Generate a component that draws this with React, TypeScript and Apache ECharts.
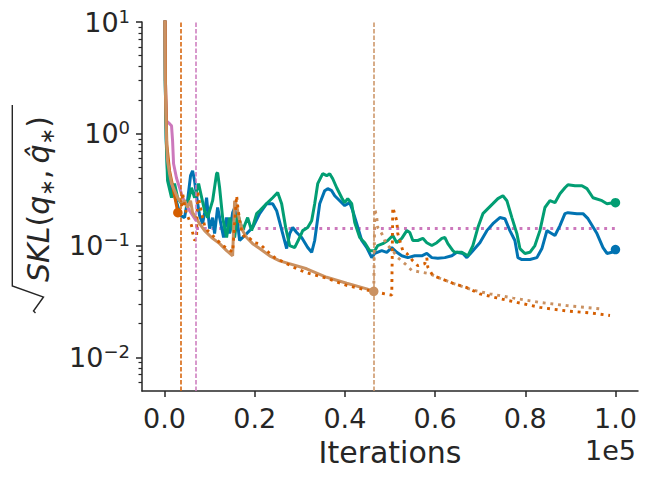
import React, { useEffect, useRef } from "react";
import * as echarts from "echarts";

// ---------------- data ----------------
const xTicks = [0, 20000, 40000, 60000, 80000, 100000];
const yMajorTicks = [0.01, 0.1, 1, 10];
const yMinorTicks = [
  0.006, 0.007, 0.008, 0.009,
  0.02, 0.03, 0.04, 0.05, 0.06, 0.07, 0.08, 0.09,
  0.2, 0.3, 0.4, 0.5, 0.6, 0.7, 0.8, 0.9,
  2, 3, 4, 5, 6, 7, 8, 9,
];

const blueSolid: [number, number][] = [
  [0, 50], [150, 3.0], [370, 0.9], [730, 0.403], [1110, 0.38], [1550, 0.31], [2220, 0.279],
  [2890, 0.228], [3550, 0.185], [4440, 0.178], [5100, 0.252], [5770, 0.422], [6220, 0.467],
  [6660, 0.38], [7100, 0.279], [7770, 0.185], [8440, 0.157], [8880, 0.197], [9320, 0.268],
  [9990, 0.142], [10660, 0.178], [11100, 0.128], [11770, 0.219], [12650, 0.145], [13100, 0.118],
  [13760, 0.178], [14430, 0.128], [15100, 0.197], [15760, 0.228], [16650, 0.111], [18200, 0.128],
  [19540, 0.145], [21090, 0.193], [22640, 0.237], [23980, 0.237], [24860, 0.205], [26200, 0.128],
  [27080, 0.094], [27750, 0.128], [28420, 0.145], [29300, 0.131], [30410, 0.118], [31750, 0.096],
  [32630, 0.087], [33300, 0.111], [34410, 0.237], [35520, 0.31], [36190, 0.323], [37070, 0.31],
  [37740, 0.279], [38850, 0.252], [39960, 0.228], [41070, 0.242], [41740, 0.205], [42620, 0.157],
  [43730, 0.111], [44840, 0.096], [45950, 0.078], [46620, 0.085], [48170, 0.09], [49280, 0.087],
  [50390, 0.096], [51500, 0.087], [52610, 0.081], [53950, 0.078], [55500, 0.081], [57050, 0.081],
  [58160, 0.085], [59270, 0.078], [60610, 0.077], [62160, 0.078], [63710, 0.081], [64820, 0.087],
  [66160, 0.085], [67040, 0.078], [68380, 0.09], [69930, 0.106], [71480, 0.136], [72820, 0.157],
  [74370, 0.178], [75480, 0.174], [76590, 0.136], [77700, 0.111], [78370, 0.078], [79250, 0.075],
  [81030, 0.075], [82580, 0.078], [83690, 0.094], [84800, 0.136], [85470, 0.131], [86580, 0.123],
  [87690, 0.151], [88800, 0.193], [89470, 0.197], [91460, 0.193], [92800, 0.193], [93910, 0.174],
  [95900, 0.128], [97240, 0.096], [98120, 0.085], [99230, 0.087], [100000, 0.092],
];

const greenSolid: [number, number][] = [
  [0, 50], [150, 3.0], [370, 0.87], [670, 0.38], [1550, 0.268], [2220, 0.358], [2890, 0.268],
  [3770, 0.237], [4660, 0.252], [4880, 0.219], [5990, 0.329], [6660, 0.268], [7550, 0.358],
  [8880, 0.205], [9550, 0.178], [10660, 0.252], [11540, 0.44], [11770, 0.449], [12210, 0.329],
  [12880, 0.178], [13760, 0.118], [14430, 0.178], [15540, 0.118], [16210, 0.193], [17320, 0.136],
  [18430, 0.178], [19310, 0.136], [20420, 0.193], [21090, 0.205], [22640, 0.237], [23980, 0.268],
  [25090, 0.298], [25970, 0.237], [26860, 0.145], [27750, 0.1], [28860, 0.096], [29970, 0.118],
  [30640, 0.136], [31750, 0.145], [32630, 0.167], [33300, 0.237], [33970, 0.358], [35080, 0.44],
  [35960, 0.422], [36630, 0.44], [37300, 0.396], [38180, 0.329], [39290, 0.268], [39960, 0.242],
  [40630, 0.263], [41510, 0.237], [42180, 0.161], [43290, 0.118], [44400, 0.106], [45510, 0.09],
  [46620, 0.09], [47290, 0.1], [48400, 0.104], [49510, 0.111], [50620, 0.123], [51500, 0.106],
  [52610, 0.116], [53720, 0.136], [54390, 0.131], [55060, 0.111], [56170, 0.111], [57280, 0.116],
  [58160, 0.106], [59270, 0.1], [60380, 0.106], [61490, 0.116], [62160, 0.118], [62830, 0.104],
  [63940, 0.09], [64380, 0.087], [65930, 0.087], [67270, 0.081], [68380, 0.1], [69490, 0.145],
  [70600, 0.193], [71710, 0.214], [72820, 0.237], [73930, 0.263], [75040, 0.279], [75920, 0.252],
  [77030, 0.178], [78140, 0.128], [78810, 0.094], [79920, 0.085], [81030, 0.087], [82140, 0.1],
  [83250, 0.136], [84360, 0.219], [85470, 0.252], [86580, 0.242], [87690, 0.291], [88800, 0.329],
  [89470, 0.35], [91020, 0.343], [92570, 0.343], [93680, 0.323], [95020, 0.268], [97010, 0.252],
  [98120, 0.237], [99460, 0.242], [100000, 0.242],
];

const pinkSolid: [number, number][] = [
  [0, 50], [200, 3.0], [450, 1.3], [1110, 1.23], [1550, 1.18], [1780, 0.87], [2000, 0.54],
  [2660, 0.4], [3330, 0.33], [4000, 0.27], [5550, 0.205], [7000, 0.167],
];
const pinkDotted: [number, number][] = [[7000, 0.142], [100000, 0.142]];

const orangeSolid: [number, number][] = [
  [0, 50], [200, 3.0], [500, 0.8], [1110, 0.467], [1780, 0.343], [2440, 0.252], [2950, 0.197],
];
const orangeDotted: [number, number][] = [
  [2950, 0.197], [3770, 0.219], [4000, 0.297], [4440, 0.228], [4880, 0.193], [5550, 0.167],
  [5990, 0.151], [6220, 0.131], [6660, 0.111], [7100, 0.116], [7330, 0.31], [7770, 0.237],
  [8210, 0.197], [8440, 0.178], [8880, 0.151], [9550, 0.136], [10660, 0.123], [11770, 0.111],
  [12880, 0.1], [13990, 0.094], [15100, 0.087], [15980, 0.279], [16210, 0.228], [16650, 0.167],
  [17090, 0.136], [17760, 0.118], [18870, 0.116], [19980, 0.106], [21090, 0.104], [22640, 0.09],
  [24420, 0.078], [27080, 0.069], [29300, 0.062], [31520, 0.057], [35960, 0.051], [40400, 0.044],
  [44840, 0.04], [48840, 0.037], [50390, 0.036], [50620, 0.219], [51500, 0.167], [51730, 0.128],
  [52170, 0.111], [52840, 0.09], [53720, 0.085], [55060, 0.073], [56170, 0.066], [57720, 0.069],
  [58160, 0.078], [58390, 0.064], [59500, 0.054], [61050, 0.051], [63940, 0.046], [67040, 0.042],
  [69930, 0.037], [73700, 0.034], [78140, 0.031], [83250, 0.028], [89240, 0.026], [94350, 0.025],
  [98790, 0.0237],
];

const tanSolid: [number, number][] = [
  [0, 50], [150, 3.0], [440, 0.87], [670, 0.574], [1110, 0.44], [1550, 0.358], [2220, 0.31],
  [2890, 0.268], [3770, 0.242], [4440, 0.252], [5100, 0.219], [5770, 0.252], [6220, 0.197],
  [7100, 0.174], [7770, 0.157], [8880, 0.136], [10430, 0.118], [12210, 0.104], [13760, 0.09],
  [15100, 0.081], [15540, 0.252], [15980, 0.228], [16650, 0.167], [17320, 0.136], [18200, 0.118],
  [19540, 0.104], [21090, 0.094], [23310, 0.081], [25530, 0.073], [31520, 0.062], [35960, 0.052],
  [40400, 0.046], [44840, 0.041], [46400, 0.039],
];
const tanDotted: [number, number][] = [
  [46400, 0.039], [46620, 0.214], [47060, 0.178], [47290, 0.145], [48170, 0.128], [48840, 0.111],
  [49510, 0.1], [50620, 0.09], [51730, 0.078], [53280, 0.069], [54830, 0.06], [56610, 0.058],
  [58830, 0.056], [61050, 0.051], [63940, 0.046], [68380, 0.04], [72150, 0.037], [77260, 0.034],
  [83250, 0.031], [89240, 0.029], [97240, 0.027],
];

const orangeStop = 3500;
const pinkStop = 7000;
const tanStop = 46400;

// ---------------- styling ----------------
const FONT = '"DejaVu Sans", sans-serif';
const INK = "#262626";
const BLUE = "#0173b2";
const GREEN = "#029e73";
const ORANGE = "#d55e00";
const PINK = "#cc78bc";
const TAN = "#ca9161";

const solid = (data: [number, number][], color: string, stop?: number) => ({
  type: "line",
  data,
  showSymbol: false,
  symbol: "none",
  clip: true,
  lineStyle: { color, width: 3 },
  itemStyle: { color },
  ...(stop !== undefined
    ? {
        markLine: {
          silent: true,
          symbol: ["none", "none"],
          label: { show: false },
          lineStyle: { color, width: 1.5, type: [4.5, 2], opacity: 1 },
          data: [{ xAxis: stop }],
        },
      }
    : {}),
});

const dotted = (data: [number, number][], color: string) => ({
  type: "line",
  data,
  showSymbol: false,
  symbol: "none",
  clip: true,
  lineStyle: { color, width: 2.9, type: [2.9, 4.8], cap: "butt" },
  itemStyle: { color },
});

const marker = (pt: [number, number], color: string) => ({
  type: "scatter",
  data: [pt],
  symbol: "circle",
  symbolSize: 9.5,
  itemStyle: { color, opacity: 1 },
  z: 5,
});

const supLabel = (v: number) => {
  const e = Math.round(Math.log10(v));
  return `{b|10}{s|${e < 0 ? "\u2212" + -e : e}}`;
};

export default function App() {
  const ref = useRef<HTMLDivElement>(null);

  useEffect(() => {
    if (!ref.current) return;
    const chart = echarts.init(ref.current, undefined, { renderer: "svg" });
    const yBase = {
      type: "log",
      logBase: 10,
      min: 0.005,
      max: 10,
      position: "left",
      splitLine: { show: false },
      axisLine: { onZero: false },
    };
    chart.setOption({
      animation: false,
      backgroundColor: "#ffffff",
      grid: { left: 142, right: 10, top: 22, bottom: 86, containLabel: false, outerBoundsMode: "none" },
      xAxis: {
        type: "value",
        min: -5000,
        max: 105000,
        splitLine: { show: false },
        axisLine: { onZero: false, lineStyle: { color: INK, width: 1.5 } },
        axisTick: { customValues: xTicks, length: 6, lineStyle: { color: INK, width: 1.5 } },
        axisLabel: {
          customValues: xTicks,
          formatter: (v: number) => (v / 100000).toFixed(1),
          color: INK,
          fontFamily: FONT,
          fontSize: 27,
          margin: 14,
        },
        name: "Iterations",
        nameLocation: "middle",
        nameGap: 46,
        nameTextStyle: { color: INK, fontFamily: FONT, fontSize: 30 },
      },
      yAxis: [
        {
          ...yBase,
          axisLine: { show: true, onZero: false, lineStyle: { color: INK, width: 1.5 } },
          axisTick: { customValues: yMajorTicks, length: 6, lineStyle: { color: INK, width: 1.5 } },
          axisLabel: {
            customValues: yMajorTicks,
            formatter: supLabel,
            margin: 12,
            rich: {
              b: { fontFamily: FONT, fontSize: 27, color: INK },
              s: { fontFamily: FONT, fontSize: 18, color: INK, padding: [0, 0, 12, 0] },
            },
          },
        },
        {
          ...yBase,
          axisLine: { show: false, onZero: false },
          axisTick: { customValues: yMinorTicks, length: 3.5, lineStyle: { color: INK, width: 1.2 } },
          axisLabel: { show: false },
        },
      ],
      graphic: [
        {
          type: "text",
          x: 636,
          y: 450,
          style: {
            text: "1e5",
            fill: INK,
            font: `27px ${FONT}`,
            align: "right",
            verticalAlign: "middle",
          },
        },
        {
          type: "polyline",
          shape: { points: [[12.3, 105], [12.3, 286], [43.5, 297], [33.5, 311], [35.5, 313]] },
          style: { stroke: INK, lineWidth: 1.4, fill: "none" },
        },
        {
          type: "text",
          x: 38,
          y: 199,
          rotation: Math.PI / 2,
          style: {
            text: "{i|SKL}{n|(}{i|q}{sb|\u2217}{n|,\u2009}{i|q\u0302}{sb|\u2217}{n|)}",
            align: "center",
            verticalAlign: "middle",
            rich: {
              i: { fontFamily: FONT, fontStyle: "italic", fontSize: 30, fill: INK },
              n: { fontFamily: FONT, fontSize: 30, fill: INK },
              sb: { fontFamily: FONT, fontSize: 20, fill: INK, padding: [17, 0, 0, 0] },
            },
          },
        },
      ],
      series: [
        dotted(pinkDotted, PINK),
        solid(blueSolid, BLUE),
        solid(greenSolid, GREEN),
        solid(pinkSolid, PINK, pinkStop),
        solid(orangeSolid, ORANGE, orangeStop),
        solid(tanSolid, TAN, tanStop),
        dotted(tanDotted, TAN),
        dotted(orangeDotted, ORANGE),
        marker(orangeSolid[orangeSolid.length - 1], ORANGE),
        marker(tanSolid[tanSolid.length - 1], TAN),
        marker(blueSolid[blueSolid.length - 1], BLUE),
        marker(greenSolid[greenSolid.length - 1], GREEN),
      ],
    });
    return () => chart.dispose();
  }, []);

  return (
    <div
      ref={ref}
      style={{ position: "fixed", left: 0, top: 0, width: 648, height: 477, background: "#fff" }}
    />
  );
}
